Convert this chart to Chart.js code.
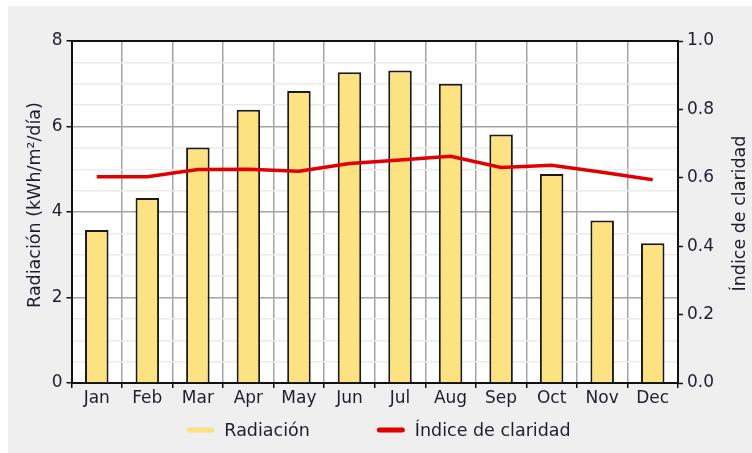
<!DOCTYPE html>
<html>
<head>
<meta charset="utf-8">
<script src="https://cdn.jsdelivr.net/npm/chart.js@4.4.1/dist/chart.umd.min.js"></script>
<style>
  html, body { margin: 0; padding: 0; background: #ffffff; }
  #wrap { position: absolute; left: 8px; top: 6px; width: 744px; height: 447px; }
</style>
</head>
<body>
<div id="wrap"><canvas id="c" width="744" height="447"></canvas></div>
<script>
// Monthly solar radiation and clearness index
const months = ['Jan', 'Feb', 'Mar', 'Apr', 'May', 'Jun', 'Jul', 'Aug', 'Sep', 'Oct', 'Nov', 'Dec'];
const radiacion = [3.58, 4.33, 5.51, 6.39, 6.83, 7.27, 7.31, 7.00, 5.81, 4.89, 3.80, 3.27];
const claridad = [0.603, 0.603, 0.624, 0.625, 0.619, 0.642, 0.652, 0.663, 0.630, 0.637, 0.616, 0.594];
const radTicks = [0, 2, 4, 6, 8];
const clarTickLabels = ['0.0', '0.2', '0.4', '0.6', '0.8', '1.0'];
const seriesNames = ['Radiación', 'Índice de claridad'];
const radTitle = 'Radiación (kWh/m²/día)';
const clarTitle = 'Índice de claridad';

const FONT = 'DejaVu Sans';
const TEXT = '#1e1e2e';
const BAR_FILL = '#fde281';
const LINE_RED = '#e00000';
const GRID_MAJOR = '#a4a4a4';
const GRID_MINOR = '#ebebeb';
const AXIS = '#111111';

// Frame, titles and legend drawn around the plot
const framePlugin = {
  id: 'frame',
  beforeDraw(chart) {
    const { ctx, chartArea: a } = chart;
    ctx.save();
    ctx.fillStyle = '#efefef';
    ctx.fillRect(0, 0, chart.width, chart.height);
    ctx.fillStyle = '#ffffff';
    ctx.fillRect(a.left, a.top, a.right - a.left, a.bottom - a.top);
    ctx.restore();
  },
  afterDraw(chart) {
    const { ctx, chartArea: a } = chart;
    ctx.save();
    // top edge of the plot box
    ctx.strokeStyle = AXIS;
    ctx.lineWidth = 2;
    ctx.beginPath();
    ctx.moveTo(a.left - 1, a.top);
    ctx.lineTo(a.right + 1, a.top);
    ctx.stroke();

    // axis titles, both reading bottom to top
    ctx.fillStyle = TEXT;
    ctx.font = '17.5px "' + FONT + '"';
    ctx.textAlign = 'center';
    ctx.textBaseline = 'middle';
    ctx.save();
    ctx.translate(27.5, 199);
    ctx.rotate(-Math.PI / 2);
    ctx.fillText(radTitle, 0, 0);
    ctx.restore();
    ctx.save();
    ctx.translate(732, 207.5);
    ctx.rotate(-Math.PI / 2);
    ctx.fillText(clarTitle, 0, 0);
    ctx.restore();

    // legend, in series order
    ctx.font = '17.5px "' + FONT + '"';
    ctx.textAlign = 'left';
    ctx.textBaseline = 'alphabetic';
    const sw = 28, gap = 10, itemGap = 67;
    const items = seriesNames.map(n => chart.data.datasets.find(d => d.label === n));
    const widths = items.map(d => ctx.measureText(d.label).width);
    const total = widths.reduce((s, w) => s + sw + gap + w, 0) + itemGap * (items.length - 1);
    let x = 370.5 - total / 2;
    const ySw = 424, yText = 430;
    items.forEach((d, i) => {
      ctx.strokeStyle = d.legendColor;
      ctx.lineWidth = 5;
      ctx.lineCap = 'round';
      ctx.beginPath();
      ctx.moveTo(x + 2.5, ySw);
      ctx.lineTo(x + sw - 2.5, ySw);
      ctx.stroke();
      ctx.fillStyle = TEXT;
      ctx.fillText(d.label, x + sw + gap, yText);
      x += sw + gap + widths[i] + itemGap;
    });
    ctx.restore();
  }
};

new Chart(document.getElementById('c'), {
  data: {
    labels: months,
    datasets: [
      {
        type: 'bar',
        label: seriesNames[0],
        data: radiacion,
        yAxisID: 'y',
        backgroundColor: BAR_FILL,
        borderColor: '#1a1a1a',
        borderWidth: 2,
        borderSkipped: 'bottom',
        barPercentage: 0.465,
        categoryPercentage: 1,
        order: 1,
        legendColor: BAR_FILL
      },
      {
        type: 'line',
        label: seriesNames[1],
        data: claridad,
        yAxisID: 'y1',
        borderColor: LINE_RED,
        borderWidth: 3.5,
        pointRadius: 0,
        tension: 0,
        order: 0,
        legendColor: LINE_RED
      }
    ]
  },
  options: {
    responsive: false,
    animation: false,
    layout: { padding: { top: 35, left: 0, right: 0, bottom: 40 } },
    plugins: {
      legend: { display: false },
      tooltip: { enabled: false }
    },
    scales: {
      x: {
        type: 'category',
        offset: true,
        grid: {
          offset: true,
          color: GRID_MAJOR,
          lineWidth: 1.5,
          drawTicks: true,
          tickLength: 5,
          tickColor: AXIS,
          tickWidth: 1.5
        },
        border: { display: true, color: AXIS, width: 2 },
        ticks: {
          color: TEXT,
          font: { family: FONT, size: 17 },
          padding: 0,
          maxRotation: 0,
          autoSkip: false
        },
        afterFit(s) { s.height = 30; }
      },
      y: {
        type: 'linear',
        position: 'left',
        min: 0,
        max: 8,
        grid: {
          color: c => (radTicks.includes(c.tick.value) ? GRID_MAJOR : GRID_MINOR),
          lineWidth: 1.5,
          drawTicks: true,
          tickLength: 5,
          tickColor: c => (radTicks.includes(c.tick.value) ? AXIS : 'rgba(0,0,0,0)'),
          tickWidth: 1.5
        },
        border: { display: true, color: AXIS, width: 2 },
        ticks: {
          stepSize: 0.5,
          autoSkip: false,
          color: TEXT,
          font: { family: FONT, size: 17 },
          padding: 4,
          callback: v => (radTicks.includes(v) ? String(v) : '')
        },
        afterFit(s) { s.width = 63.5; }
      },
      y1: {
        type: 'linear',
        position: 'right',
        min: 0,
        max: 1,
        grid: {
          drawOnChartArea: false,
          drawTicks: true,
          tickLength: 5,
          tickColor: AXIS,
          tickWidth: 1.5
        },
        border: { display: true, color: AXIS, width: 2 },
        ticks: {
          stepSize: 0.2,
          autoSkip: false,
          color: TEXT,
          font: { family: FONT, size: 17 },
          padding: 4,
          callback: (v, i) => clarTickLabels[i]
        },
        afterFit(s) { s.width = 74; }
      }
    }
  },
  plugins: [framePlugin]
});
</script>
</body>
</html>
